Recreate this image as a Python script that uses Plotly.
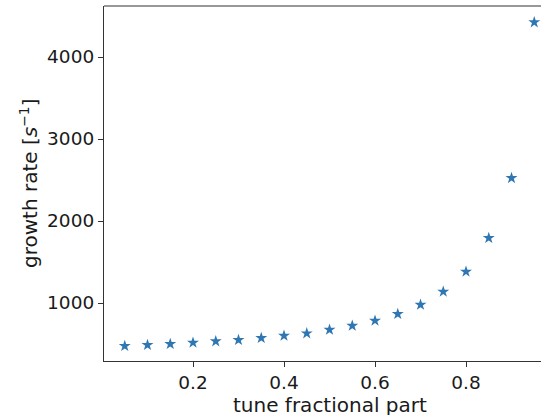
import plotly.graph_objects as go

# Tune fractional part and corresponding growth rates
tune = [0.05, 0.10, 0.15, 0.20, 0.25, 0.30, 0.35, 0.40, 0.45, 0.50,
        0.55, 0.60, 0.65, 0.70, 0.75, 0.80, 0.85, 0.90, 0.95]
growth_rate = [476, 488, 500, 516, 533, 549, 573, 601, 630, 674,
               723, 784, 866, 979, 1138, 1382, 1793, 2524, 4423]

x_ticks = [0.2, 0.4, 0.6, 0.8]
x_tick_labels = ["0.2", "0.4", "0.6", "0.8"]
y_ticks = [1000, 2000, 3000, 4000]
y_tick_labels = ["1000", "2000", "3000", "4000"]

tick_font = dict(family="DejaVu Sans", size=18.5, color="#1a1a1a")
label_font = dict(family="DejaVu Sans", size=20, color="#1a1a1a")

fig = go.Figure(
    go.Scatter(
        x=tune, y=growth_rate, mode="markers",
        marker=dict(symbol="star", size=9, color="#2f77b3",
                    line=dict(width=0)),
        cliponaxis=False,
    )
)

axis_common = dict(
    showgrid=False, zeroline=False, showline=True, linecolor="#333333",
    linewidth=1.2, ticks="outside", ticklen=5, tickwidth=1.2,
    tickcolor="#333333", tickfont=tick_font,
)

fig.update_layout(
    width=541, height=415,
    margin=dict(l=104, r=0, t=6, b=54),
    plot_bgcolor="white", paper_bgcolor="white",
    showlegend=False,
    font=tick_font,
    xaxis=dict(
        range=[0.0044, 0.9648],
        tickvals=x_ticks, ticktext=x_tick_labels,
        mirror=False,
        **axis_common,
    ),
    yaxis=dict(
        range=[292.7, 4622],
        tickvals=y_ticks, ticktext=y_tick_labels,
        **axis_common,
    ),
)

# Axis labels
fig.add_annotation(text="tune fractional part", xref="paper", yref="paper",
                   x=0.518, y=-0.124, xanchor="center", yanchor="middle",
                   showarrow=False, font=label_font)
fig.add_annotation(text="growth rate [<i>s</i><sup>−1</sup>]", xref="paper", yref="paper",
                   x=-0.1716, y=0.5014, xanchor="center", yanchor="middle",
                   textangle=-90, showarrow=False, font=label_font)

# Top spine of the axes box
fig.add_shape(type="line", xref="paper", yref="paper", x0=0, x1=1, y0=1, y1=1,
              line=dict(color="#333333", width=1.2))

fig.write_html("out.html")
